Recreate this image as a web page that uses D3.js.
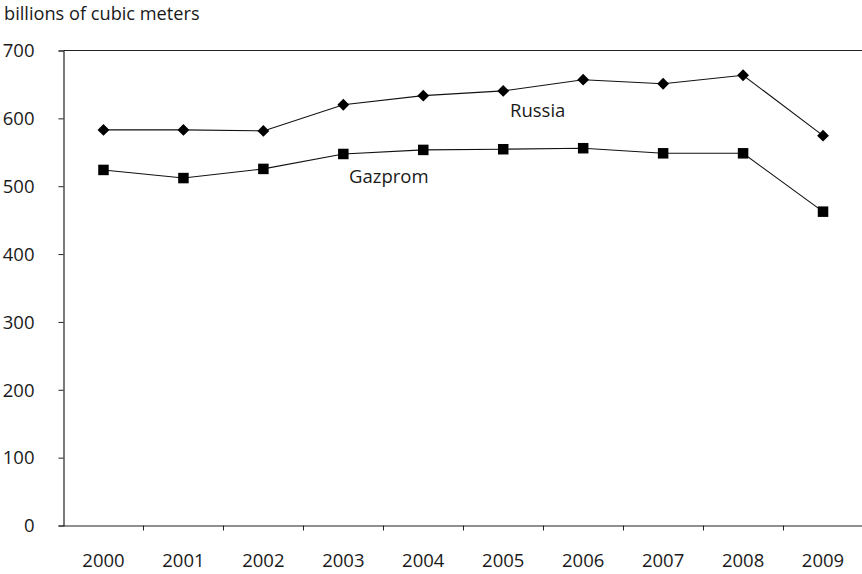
<!DOCTYPE html>
<html><head><meta charset="utf-8">
<script src="https://cdn.jsdelivr.net/npm/d3@7"></script>
<style>body{margin:0;background:#fff}svg{display:block}text{font-family:"Open Sans",sans-serif;fill:#1a1a1a}</style>
</head><body><svg id="c" width="862" height="574"></svg>
<script>
const years = ["2000","2001","2002","2003","2004","2005","2006","2007","2008","2009"];
const russia = [583, 583, 581.5, 620, 633.5, 640.5, 657, 651, 663.5, 574.5];
const gazprom = [524, 512, 525.5, 547.5, 553.5, 554.5, 556, 548.5, 548.5, 462.5];
const yTicks = [0, 100, 200, 300, 400, 500, 600, 700];
const unitLabel = "billions of cubic meters";

const svg = d3.select("#c");
const L = 63.5, R = 863, T = 50.5, B = 525.5;
const x = d3.scaleBand().domain(years).range([L, R]);
const y = d3.scaleLinear().domain([0, 700]).range([B, T]);

svg.append("text").attr("x", 4).attr("y", 19.5).attr("font-size", 18.2).text(unitLabel);

// top border line at 700
svg.append("line").attr("x1", L).attr("x2", 862).attr("y1", y(700)).attr("y2", y(700))
  .attr("stroke", "#222").attr("stroke-width", 1.2);

const ya = svg.append("g").attr("transform", `translate(${L},0)`)
  .call(d3.axisLeft(y).tickValues(yTicks).tickSize(5).tickPadding(24).tickFormat(d3.format("d")));
ya.select(".domain").attr("stroke", "#222").attr("stroke-width", 1.2);
ya.selectAll(".tick line").attr("stroke", "#222");
ya.selectAll("text").attr("font-size", 18.5).attr("font-family", "Open Sans").attr("fill", "#1a1a1a").attr("dy", "0.34em");

const xa = svg.append("g").attr("transform", `translate(0,${B})`)
  .call(d3.axisBottom(x).tickSize(0).tickSizeOuter(0).tickPadding(28));
xa.select(".domain").attr("stroke", "#222").attr("stroke-width", 1.2).attr("d", `M${L},0.5H862`);
xa.selectAll("text").attr("font-size", 18.5).attr("font-family", "Open Sans").attr("fill", "#1a1a1a");
// boundary ticks between categories
svg.append("g").selectAll("line").data(years.slice(1)).join("line")
  .attr("x1", d => Math.round(x(d)) + 0.5).attr("x2", d => Math.round(x(d)) + 0.5)
  .attr("y1", B).attr("y2", B + 5).attr("stroke", "#222");

const line = d3.line().x((d, i) => x(years[i]) + x.bandwidth() / 2).y(d => y(d));
[russia, gazprom].forEach(s => {
  svg.append("path").attr("d", line(s)).attr("fill", "none").attr("stroke", "#111").attr("stroke-width", 1.1);
});
svg.append("g").selectAll("path").data(russia).join("path")
  .attr("d", d3.symbol(d3.symbolSquare, 70)())
  .attr("transform", (d, i) => `translate(${x(years[i]) + x.bandwidth() / 2},${y(d)}) rotate(45)`)
  .attr("fill", "#000");
svg.append("g").selectAll("rect").data(gazprom).join("rect")
  .attr("x", (d, i) => x(years[i]) + x.bandwidth() / 2 - 5.25).attr("y", d => y(d) - 5.25)
  .attr("width", 10.5).attr("height", 10.5).attr("fill", "#000");

svg.append("text").attr("x", 510).attr("y", 116.5).attr("font-size", 18.5).text("Russia");
svg.append("text").attr("x", 349).attr("y", 183).attr("font-size", 18.5).text("Gazprom");
</script></body></html>
